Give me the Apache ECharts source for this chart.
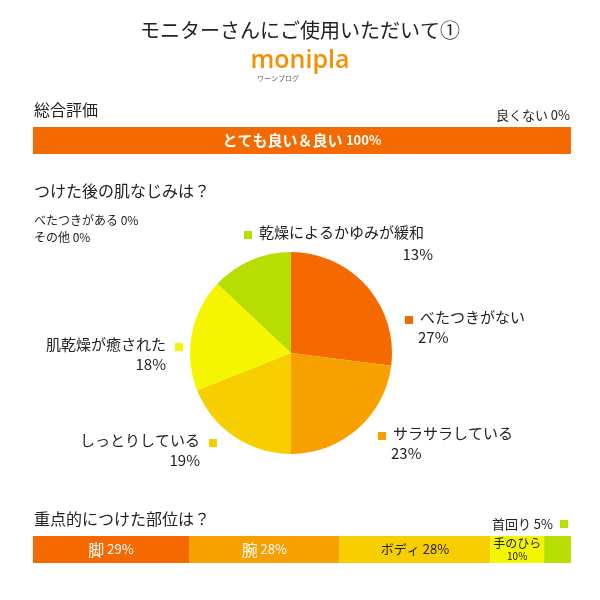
<!DOCTYPE html>
<html><head><meta charset="utf-8">
<script src="https://cdn.jsdelivr.net/npm/echarts@6/dist/echarts.min.js"></script>
<style>html,body{margin:0;background:#fff}#c{width:600px;height:600px}</style>
</head><body><div id="c"></div>
<script>
var FONT = '"Noto Sans CJK JP", sans-serif';
var overallNames = ['とても良い＆良い'];
var overallValues = [100];
var pieNames = ['べたつきがない', 'サラサラしている', 'しっとりしている', '肌乾燥が癒された', '乾燥によるかゆみが緩和'];
var pieValues = [27, 23, 19, 18, 13];
var pieColors = ['#f56a00', '#f8a000', '#f7cf00', '#f5f500', '#b7de00'];
var partNames = ['脚', '腕', 'ボディ', '手のひら', '首回り'];
var partValues = [29, 28, 28, 10, 5];

// label anchor spots for pie slices: [x, y, side]
var pieLabelPos = [[405, 320, 'r'], [378, 436, 'r'], [209, 443, 'l'], [175, 347, 'l'], [244, 235, 'r']];

var chart = echarts.init(document.getElementById('c'));

var graphics = [
  {type: 'text', left: 'center', top: 20, style: {text: 'モニターさんにご使用いただいて①', font: '20px ' + FONT, fill: '#222'}},
  {type: 'text', left: 'center', top: 48, style: {text: 'monipla', font: '600 25px "Open Sans", sans-serif', fill: '#f39000'}},
  {type: 'text', x: 257, y: 75, style: {text: 'ワーンプログ', font: '7px ' + FONT, fill: '#666'}},
  {type: 'text', x: 34, y: 102, style: {text: '総合評価', font: '16px ' + FONT, fill: '#222'}},
  {type: 'text', x: 570, y: 109, style: {text: '良くない 0%', font: '13px ' + FONT, fill: '#222', align: 'right'}},
  {type: 'text', x: 34, y: 183, style: {text: 'つけた後の肌なじみは？', font: '16px ' + FONT, fill: '#222'}},
  {type: 'text', x: 34, y: 214, style: {text: 'べたつきがある 0%', font: '12px ' + FONT, fill: '#222'}},
  {type: 'text', x: 34, y: 231, style: {text: 'その他 0%', font: '12px ' + FONT, fill: '#222'}},
  {type: 'text', x: 34, y: 511, style: {text: '重点的につけた部位は？', font: '16px ' + FONT, fill: '#222'}},
  {type: 'text', x: 553, y: 518, style: {text: partNames[4] + ' ' + partValues[4] + '%', font: '13px ' + FONT, fill: '#222', align: 'right'}},
  {type: 'rect', shape: {x: 560, y: 520, width: 8, height: 8}, style: {fill: pieColors[4]}}
];
pieNames.forEach(function (n, i) {
  var p = pieLabelPos[i];
  graphics.push({type: 'rect', shape: {x: p[0], y: p[1] - 4, width: 8, height: 8}, style: {fill: pieColors[i]}});
  if (p[2] === 'r') {
    graphics.push({type: 'text', x: p[0] + 15, y: p[1] - 10, style: {text: n, font: '15px ' + FONT, fill: '#222'}});
    if (i === 4)
      graphics.push({type: 'text', x: 433, y: p[1] + 12, style: {text: pieValues[i] + '%', font: '15px ' + FONT, fill: '#222', align: 'right'}});
    else
      graphics.push({type: 'text', x: p[0] + 13, y: p[1] + 10, style: {text: pieValues[i] + '%', font: '15px ' + FONT, fill: '#222'}});
  } else {
    graphics.push({type: 'text', x: p[0] - 9, y: p[1] - 10, style: {text: n, font: '15px ' + FONT, fill: '#222', align: 'right'}});
    graphics.push({type: 'text', x: p[0] - 9, y: p[1] + 10, style: {text: pieValues[i] + '%', font: '15px ' + FONT, fill: '#222', align: 'right'}});
  }
});

var partColors = ['#f56a00', '#f8a000', '#f7cf00', '#f5f500', '#b7de00'];
var partTextColors = ['#fff', '#fff', '#222', '#222', '#222'];

var series = [{
  type: 'bar', xAxisIndex: 0, yAxisIndex: 0, data: overallValues, barWidth: 27,
  itemStyle: {color: '#f56a00'},
  label: {show: true, position: 'inside', formatter: overallNames[0] + ' {s|' + overallValues[0] + '%}',
    color: '#fff', fontWeight: 'bold', fontSize: 15, fontFamily: FONT,
    rich: {s: {fontSize: 13, color: '#fff', fontFamily: FONT}}}
}];
partNames.forEach(function (n, i) {
  var lbl;
  if (i === 3) lbl = {show: true, position: 'inside', formatter: n + '\n{s|' + partValues[i] + '%}', color: '#222', fontSize: 12, fontFamily: FONT, lineHeight: 13, rich: {s: {fontSize: 10, fontFamily: FONT, color: '#222'}}};
  else if (i === 4) lbl = {show: false};
  else lbl = {show: true, position: 'inside', formatter: '{b|' + n + '} ' + partValues[i] + '%', color: partTextColors[i], fontSize: 13, fontFamily: FONT, rich: {b: {fontSize: i < 2 ? 16 : 13, fontFamily: FONT, color: partTextColors[i]}}};
  series.push({type: 'bar', stack: 'p', xAxisIndex: 1, yAxisIndex: 1, data: [partValues[i]], barWidth: 27,
    itemStyle: {color: partColors[i]}, label: lbl});
});
series.push({
  type: 'pie', center: [291, 353], radius: 101, startAngle: 90, clockwise: true,
  label: {show: false}, labelLine: {show: false}, silent: true,
  data: pieNames.map(function (n, i) { return {name: n, value: pieValues[i], itemStyle: {color: pieColors[i]}}; })
});

chart.setOption({
  animation: false,
  grid: [
    {left: 33, width: 538, top: 127, height: 27},
    {left: 33, width: 538, top: 536, height: 27}
  ],
  xAxis: [
    {gridIndex: 0, type: 'value', min: 0, max: 100, show: false},
    {gridIndex: 1, type: 'value', min: 0, max: 100, show: false}
  ],
  yAxis: [
    {gridIndex: 0, type: 'category', data: ['a'], show: false},
    {gridIndex: 1, type: 'category', data: ['b'], show: false}
  ],
  graphic: graphics,
  series: series
});
</script></body></html>
